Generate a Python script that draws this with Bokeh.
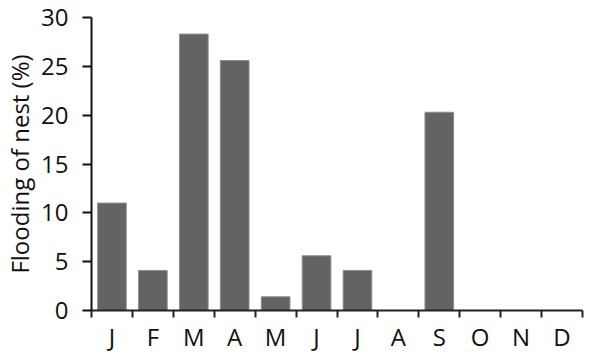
from bokeh.plotting import figure
from bokeh.models import Range1d, FixedTicker, ColumnDataSource
from bokeh.embed import file_html
from bokeh.resources import INLINE

months = ["J", "F", "M", "A", "M", "J", "J", "A", "S", "O", "N", "D"]
flooding = [11.0, 4.1, 28.3, 25.6, 1.4, 5.6, 4.1, 0, 20.3, 0, 0, 0]
y_ticks = [0, 5, 10, 15, 20, 25, 30]

n = len(months)
centers = [i + 0.5 for i in range(n)]
src = ColumnDataSource(dict(x=centers, top=flooding))

p = figure(width=594, height=355, output_backend="svg", toolbar_location=None,
           x_range=Range1d(0, n), y_range=Range1d(0, 30),
           min_border_left=90, min_border_right=12, min_border_top=17,
           min_border_bottom=45)
p.outline_line_color = None
p.xgrid.visible = False
p.ygrid.visible = False

p.vbar(x="x", top="top", width=0.7, source=src,
       fill_color="#636363", line_color="#8c8c8c", line_width=1)

font = "Open Sans"
xa = p.xaxis[0]
xa.ticker = FixedTicker(ticks=centers, minor_ticks=list(range(n + 1)))
xa.major_label_overrides = {c: m for c, m in zip(centers, months)}
xa.major_tick_out = 0
xa.major_tick_in = 0
xa.minor_tick_out = 7
xa.minor_tick_in = 0
xa.minor_tick_line_width = 2
xa.minor_tick_line_color = "#222222"
xa.axis_line_width = 2
xa.axis_line_color = "#222222"
xa.major_label_text_font = font
xa.major_label_text_font_size = "24px"
xa.major_label_text_color = "#111111"
xa.major_label_standoff = 2

ya = p.yaxis[0]
ya.ticker = FixedTicker(ticks=y_ticks, minor_ticks=[])
ya.major_tick_out = 9
ya.major_tick_in = 0
ya.major_tick_line_width = 2
ya.major_tick_line_color = "#111111"
ya.axis_line_width = 2
ya.axis_line_color = "#111111"
ya.major_label_text_font = font
ya.major_label_text_font_size = "24px"
ya.major_label_text_color = "#111111"
ya.major_label_standoff = 14
ya.axis_label = "Flooding of nest (%)"
ya.axis_label_text_font = font
ya.axis_label_text_font_size = "24px"
ya.axis_label_text_font_style = "normal"
ya.axis_label_text_color = "#111111"
ya.axis_label_standoff = 2

open("out.html", "w").write(file_html(p, INLINE))
